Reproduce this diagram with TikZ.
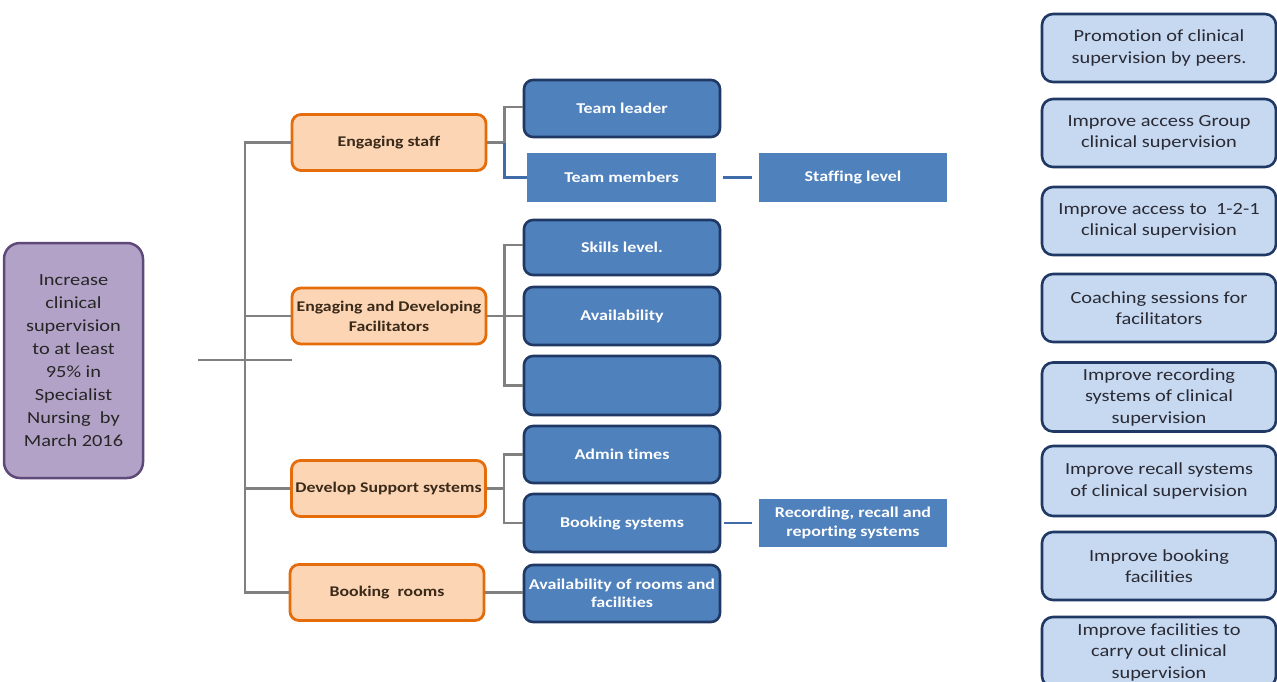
\documentclass[tikz,border=0pt]{standalone}
\usepackage{fontspec}
\setmainfont{Carlito}[FakeStretch=1.2,Ligatures=NoCommon]
\usetikzlibrary{calc}
\definecolor{goalfill}{HTML}{B3A2C7}
\definecolor{goaldraw}{HTML}{5F497A}
\definecolor{orfill}{HTML}{FCD5B5}
\definecolor{ordraw}{HTML}{E46C0A}
\definecolor{bfill}{HTML}{4F81BD}
\definecolor{bdraw}{HTML}{1F3864}
\definecolor{lbfill}{HTML}{C6D9F1}
\definecolor{conngray}{HTML}{808080}
\definecolor{connblue}{HTML}{3F6CA8}
\definecolor{ortext}{HTML}{3A2A1A}
\definecolor{rtext}{HTML}{2A2A35}
\begin{document}
\begin{tikzpicture}[x=1pt,y=-1pt,
  goal/.style={draw=goaldraw,fill=goalfill,line width=2.5pt,rounded corners=16pt,
    minimum width=139pt,minimum height=235pt,align=center,inner sep=0pt,
    font=\fontsize{17}{23}\selectfont,text=black!85},
  orbox/.style={draw=ordraw,fill=orfill,line width=2.8pt,rounded corners=9pt,
    minimum width=194pt,minimum height=56pt,align=center,inner sep=0pt,
    font=\fontsize{14.8}{20}\selectfont\bfseries,text=ortext},
  bbox/.style={draw=bdraw,fill=bfill,line width=2.6pt,rounded corners=9pt,
    minimum width=196pt,minimum height=57pt,align=center,inner sep=0pt,
    font=\fontsize{15}{18.5}\selectfont\bfseries,text=white},
  sqbox/.style={fill=bfill,minimum width=189pt,minimum height=49pt,align=center,
    inner sep=0pt,font=\fontsize{15}{18.5}\selectfont\bfseries,text=white},
  rbox/.style={draw=bdraw,fill=lbfill,line width=2.6pt,rounded corners=11pt,
    minimum width=234pt,minimum height=68pt,align=center,inner sep=0pt,
    font=\fontsize{17}{21.5}\selectfont,text=rtext},
  conn/.style={draw=conngray,line width=2.8pt},
  bconn/.style={draw=connblue,line width=2.8pt}]
\useasboundingbox (0,0) rectangle (1277,681);
\fill[white] (0,0) rectangle (1277,681);

% goal
\node[goal] (goal) at (73.5,360.5) {Increase\\clinical\\supervision\\to at least\\95\% in\\Specialist\\Nursing\ \ by\\March 2016};

% orange level
\node[orbox] (es)  at (389,142.5) {Engaging staff};
\node[orbox] (edf) at (389,316) {Engaging and Developing\\Facilitators};
\node[orbox] (dss) at (388.5,488.5) {Develop Support systems};
\node[orbox] (br)  at (387,592.5) {Booking\ \ rooms};

% blue level
\node[bbox] (tl)  at (622,108.5) {Team leader};
\node[sqbox] (tm) at (621.5,177.5) {Team members};
\node[sqbox,minimum width=188pt] (sl) at (853,177.5) {Staffing level};
\node[bbox,minimum height=55pt] (skl) at (622,247.5) {Skills level.};
\node[bbox,minimum height=58pt] (av)  at (622,316) {Availability};
\node[bbox,minimum height=59pt] (emp) at (622,385.5) {};
\node[bbox] (at)  at (622,454.5) {Admin times};
\node[bbox,minimum height=58pt] (bs)  at (622,523) {Booking systems};
\node[sqbox,minimum width=188pt,minimum height=48pt] (rrr) at (853,523) {Recording, recall and\\reporting systems};
\node[bbox] (avr) at (622,593.5) {Availability of rooms and\\facilities};

% right column
\node[rbox] (r1) at (1159,48) {Promotion of clinical\\supervision by peers.};
\node[rbox] (r2) at (1159,133) {Improve access Group\\clinical supervision};
\node[rbox] (r3) at (1159,221) {Improve access to\ \ 1-2-1\\clinical supervision};
\node[rbox] (r4) at (1159,308) {Coaching sessions for\\facilitators};
\node[rbox,minimum height=69pt] (r5) at (1159,397) {Improve recording\\systems of clinical\\supervision};
\node[rbox,minimum height=70pt] (r6) at (1159,481) {Improve recall systems\\of clinical supervision};
\node[rbox] (r7) at (1159,566) {Improve booking\\facilities};
\node[rbox,minimum height=70pt] (r8) at (1159,652) {Improve facilities to\\carry out clinical\\supervision};

% trunk
\coordinate (trk) at (245,0);
\coordinate (stubL) at (198,360);
\coordinate (stubR) at (292,360);
\draw[conn] (stubL) -- (stubR);
\draw[conn] (es.west) -| (trk |- br.west) -- (br.west);
\draw[conn] (edf.west) -- (trk |- edf.west);
\draw[conn] (dss.west) -- (trk |- dss.west);

% engaging staff bracket
\coordinate (b1) at ($(es.east)+(17,0)$);
\draw[conn] (es.east) -- (b1) |- ($(tl.west)+(0,-1.5)$);
\draw[bconn] (b1) |- (tm.west);

% engaging and developing bracket
\coordinate (b2) at ($(edf.east)+(17,0)$);
\draw[conn] (edf.east) -- (b2) -- (av.west);
\draw[conn] (b2) |- ($(skl.west)+(0,-2.5)$);
\draw[conn] (b2) |- (emp.west);

% develop support bracket
\coordinate (b3) at ($(dss.east)+(17,0)$);
\draw[conn] (dss.east) -- (b3);
\draw[conn] (b3) |- (at.west);
\draw[conn] (b3) |- (bs.west);

% booking rooms
\draw[conn] (br.east) -- (br.east -| avr.west);

% blue side links
\draw[bconn,shorten <=7pt,shorten >=7pt] (tm.east) -- (sl.west);
\draw[bconn,shorten <=3pt,shorten >=7pt] (bs.east) -- (rrr.west);
\end{tikzpicture}
\end{document}
